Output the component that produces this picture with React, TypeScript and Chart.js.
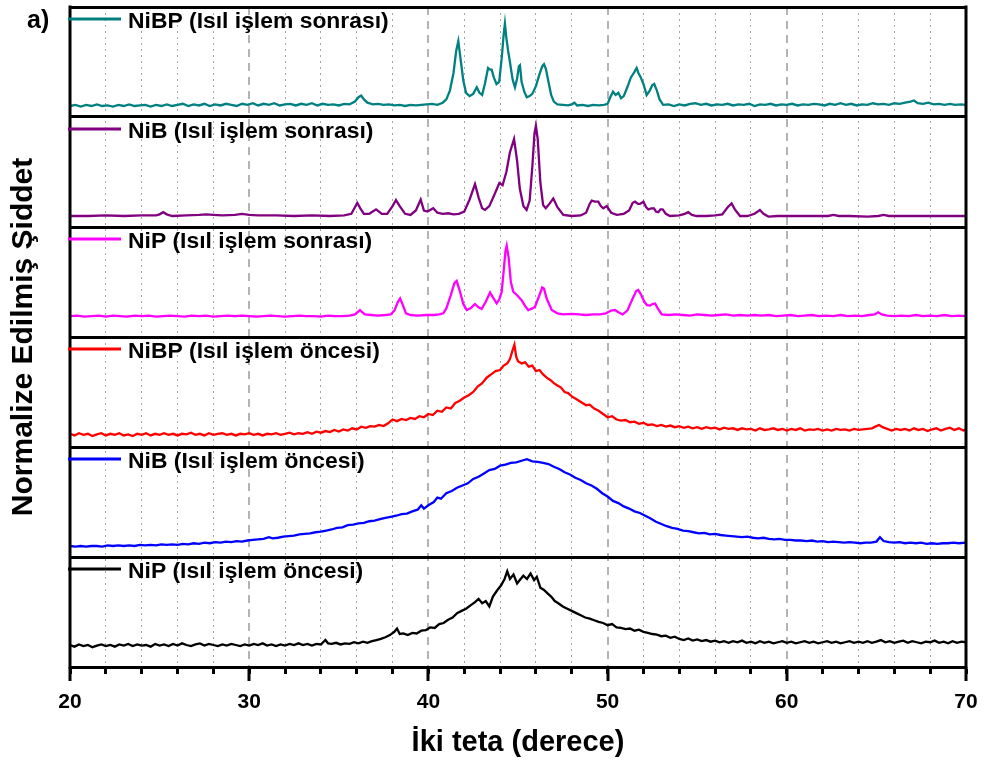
import React, { useEffect, useRef } from "react";
import { Chart, registerables } from "chart.js";

Chart.register(...registerables);

const FONT = '"Liberation Sans", Arial, Helvetica, sans-serif';

// ---- data: [2θ (degree), normalized intensity within its panel] ----
const NIBP_SONRA: [number, number][] = [
  [20.0,.10],[20.3,.11],[20.6,.095],[20.9,.11],[21.2,.10],[21.5,.115],[21.8,.10],[22.1,.105],[22.4,.095],[22.7,.11],
  [23.0,.10],[23.3,.115],[23.6,.10],[23.9,.105],[24.2,.11],[24.5,.095],[24.8,.11],[25.1,.10],[25.4,.115],[25.7,.10],
  [26.0,.11],[26.3,.12],[26.6,.10],[26.9,.115],[27.2,.105],[27.5,.12],[27.8,.10],[28.1,.115],[28.4,.105],[28.7,.12],
  [29.0,.11],[29.3,.10],[29.6,.12],[29.9,.11],[30.2,.125],[30.5,.105],[30.8,.12],[31.1,.11],[31.4,.125],[31.7,.105],
  [32.0,.115],[32.3,.12],[32.6,.105],[32.9,.12],[33.2,.11],[33.5,.125],[33.8,.105],[34.1,.12],[34.4,.11],[34.7,.115],
  [35.0,.105],[35.3,.12],[35.6,.115],[35.9,.14],[36.1,.18],[36.25,.195],[36.4,.16],[36.6,.13],[36.9,.115],[37.2,.12],
  [37.5,.11],[37.8,.115],[38.1,.105],[38.4,.11],[38.7,.10],[39.0,.11],[39.3,.105],[39.6,.11],[39.9,.115],[40.2,.12],
  [40.5,.11],[40.8,.13],[41.0,.16],[41.2,.24],[41.4,.40],[41.55,.60],[41.67,.69],[41.8,.52],[41.95,.33],[42.1,.22],
  [42.3,.19],[42.5,.21],[42.7,.27],[42.85,.22],[43.0,.20],[43.15,.30],[43.33,.445],[43.45,.43],[43.53,.43],[43.65,.36],
  [43.8,.30],[43.95,.32],[44.1,.55],[44.2,.75],[44.27,.85],[44.35,.72],[44.45,.60],[44.55,.50],[44.7,.34],[44.83,.27],
  [44.95,.35],[45.05,.46],[45.11,.47],[45.2,.32],[45.35,.23],[45.49,.18],[45.65,.19],[45.8,.21],[46.0,.28],[46.2,.39],
  [46.35,.46],[46.45,.48],[46.55,.44],[46.7,.32],[46.85,.20],[47.0,.14],[47.2,.115],[47.5,.11],[47.8,.105],[48.0,.115],
  [48.15,.13],[48.3,.105],[48.6,.11],[48.9,.10],[49.2,.11],[49.5,.105],[49.8,.11],[50.0,.12],[50.15,.18],[50.3,.23],
  [50.45,.20],[50.6,.22],[50.75,.17],[50.9,.19],[51.1,.27],[51.3,.36],[51.5,.41],[51.62,.445],[51.72,.40],[51.85,.36],
  [52.0,.30],[52.18,.20],[52.35,.24],[52.5,.29],[52.6,.30],[52.75,.24],[52.9,.16],[53.1,.11],[53.4,.115],[53.7,.10],
  [54.0,.115],[54.3,.105],[54.6,.12],[54.9,.125],[55.2,.11],[55.5,.12],[55.8,.105],[56.1,.115],[56.4,.11],[56.7,.12],
  [57.0,.105],[57.3,.115],[57.6,.11],[57.9,.12],[58.2,.10],[58.5,.115],[58.8,.11],[59.1,.12],[59.4,.105],[59.7,.115],
  [60.0,.11],[60.3,.12],[60.6,.105],[60.9,.115],[61.2,.11],[61.5,.12],[61.8,.115],[62.1,.105],[62.4,.12],[62.7,.11],
  [63.0,.125],[63.3,.11],[63.6,.12],[63.9,.105],[64.2,.115],[64.5,.11],[64.8,.125],[65.1,.115],[65.4,.12],[65.7,.11],
  [66.0,.125],[66.3,.12],[66.6,.13],[66.9,.14],[67.1,.15],[67.3,.125],[67.6,.12],[67.9,.13],[68.2,.115],[68.5,.12],
  [68.8,.11],[69.1,.12],[69.4,.11],[69.7,.115],[70.0,.11],
];

const NIB_SONRA: [number, number][] = [
  [20.0,.10],[21.0,.10],[22.0,.105],[23.0,.10],[24.0,.105],[24.8,.105],[25.0,.115],[25.2,.135],[25.4,.115],[25.7,.10],
  [26.5,.105],[27.2,.11],[27.6,.115],[28.0,.11],[28.5,.105],[29.2,.11],[29.6,.12],[30.0,.11],[30.5,.105],[31.5,.105],
  [32.5,.10],[33.5,.105],[34.5,.10],[35.3,.105],[35.7,.12],[35.9,.18],[36.03,.22],[36.2,.17],[36.4,.12],[36.7,.12],
  [37.08,.16],[37.4,.12],[37.7,.12],[38.0,.19],[38.19,.245],[38.4,.19],[38.7,.12],[39.0,.11],[39.3,.15],[39.57,.25],
  [39.75,.15],[39.95,.14],[40.27,.17],[40.5,.13],[40.8,.12],[41.11,.125],[41.4,.115],[41.7,.12],[42.0,.14],[42.3,.25],
  [42.6,.39],[42.8,.27],[43.0,.17],[43.16,.155],[43.4,.19],[43.7,.30],[43.96,.40],[44.14,.38],[44.35,.50],[44.55,.68],
  [44.78,.80],[44.95,.60],[45.1,.35],[45.3,.19],[45.48,.155],[45.65,.24],[45.8,.55],[45.92,.85],[46.0,.92],[46.1,.80],
  [46.25,.40],[46.4,.20],[46.55,.17],[46.75,.21],[46.97,.26],[47.2,.18],[47.53,.11],[48.0,.10],[48.5,.105],[48.8,.13],
  [49.0,.21],[49.11,.24],[49.3,.23],[49.48,.23],[49.62,.19],[49.76,.17],[49.95,.19],[50.2,.13],[50.51,.11],[50.9,.12],
  [51.2,.15],[51.4,.22],[51.53,.23],[51.7,.21],[51.81,.21],[52.0,.23],[52.15,.18],[52.27,.16],[52.45,.17],[52.59,.17],
  [52.7,.14],[52.83,.135],[52.95,.16],[53.07,.16],[53.25,.12],[53.48,.10],[54.0,.105],[54.3,.12],[54.5,.135],[54.7,.11],
  [54.97,.10],[55.5,.10],[56.0,.105],[56.4,.115],[56.7,.18],[56.92,.215],[57.1,.16],[57.39,.10],[57.8,.10],[58.2,.12],
  [58.5,.155],[58.7,.12],[58.97,.095],[59.5,.10],[60.5,.10],[61.5,.10],[62.3,.10],[62.6,.11],[62.9,.10],[63.5,.10],
  [64.5,.095],[65.1,.10],[65.4,.11],[65.7,.10],[66.5,.10],[67.5,.10],[68.5,.10],[69.3,.10],[70.0,.10],
];

const NIP_SONRA: [number, number][] = [
  [20.0,.19],[20.4,.195],[20.8,.185],[21.2,.19],[21.6,.195],[22.0,.185],[22.4,.195],[22.8,.19],[23.2,.185],[23.6,.195],
  [24.0,.19],[24.4,.195],[24.8,.185],[25.2,.19],[25.6,.195],[26.0,.19],[26.4,.185],[26.8,.195],[27.2,.19],[27.6,.195],
  [28.0,.185],[28.4,.19],[28.8,.195],[29.2,.19],[29.6,.195],[30.0,.19],[30.4,.185],[30.8,.19],[31.2,.195],[31.6,.19],
  [32.0,.185],[32.4,.19],[32.8,.195],[33.2,.19],[33.6,.19],[34.0,.185],[34.4,.195],[34.8,.19],[35.2,.19],[35.6,.195],
  [35.9,.205],[36.18,.245],[36.3,.225],[36.46,.205],[36.8,.20],[37.2,.195],[37.6,.20],[37.9,.205],[38.1,.24],[38.3,.32],
  [38.42,.35],[38.55,.30],[38.75,.215],[39.0,.20],[39.4,.195],[39.9,.20],[40.3,.20],[40.6,.205],[40.83,.215],[41.0,.26],
  [41.25,.38],[41.45,.49],[41.58,.51],[41.75,.42],[41.95,.30],[42.14,.245],[42.35,.26],[42.6,.30],[42.8,.27],[42.97,.255],
  [43.2,.32],[43.44,.405],[43.6,.36],[43.81,.305],[43.95,.34],[44.09,.41],[44.2,.60],[44.3,.78],[44.37,.83],[44.48,.72],
  [44.6,.50],[44.74,.41],[44.95,.38],[45.2,.335],[45.4,.28],[45.57,.245],[45.8,.26],[45.95,.275],[46.15,.36],[46.35,.45],
  [46.45,.44],[46.6,.35],[46.88,.245],[47.2,.215],[47.53,.205],[48.0,.21],[48.4,.205],[48.8,.20],[49.2,.205],[49.58,.205],
  [49.9,.215],[50.2,.24],[50.41,.245],[50.6,.225],[50.84,.205],[51.1,.24],[51.4,.35],[51.6,.42],[51.71,.427],[51.85,.39],
  [52.05,.32],[52.2,.29],[52.37,.285],[52.5,.30],[52.65,.305],[52.8,.26],[53.02,.205],[53.4,.20],[53.8,.205],[54.2,.20],
  [54.6,.195],[55.0,.205],[55.4,.20],[55.8,.195],[56.2,.20],[56.6,.205],[57.0,.195],[57.4,.20],[57.8,.195],[58.2,.20],
  [58.6,.195],[59.0,.20],[59.4,.19],[59.8,.195],[60.2,.20],[60.6,.19],[61.0,.195],[61.4,.20],[61.8,.19],[62.2,.195],
  [62.6,.19],[63.0,.20],[63.4,.19],[63.8,.195],[64.2,.19],[64.6,.20],[64.9,.205],[65.1,.225],[65.3,.205],[65.6,.195],
  [66.0,.19],[66.4,.195],[66.8,.19],[67.2,.20],[67.6,.19],[68.0,.195],[68.4,.19],[68.8,.20],[69.2,.19],[69.6,.195],[70.0,.19],
];

const NIBP_ONCE: [number, number][] = [
  [20.0,.12],[20.25,.105],[20.5,.125],[20.75,.11],[21.0,.12],[21.25,.10],[21.5,.115],[21.75,.125],[22.0,.105],[22.25,.12],
  [22.5,.11],[22.75,.125],[23.0,.105],[23.25,.115],[23.5,.10],[23.75,.12],[24.0,.11],[24.25,.125],[24.5,.105],[24.75,.12],
  [25.0,.11],[25.25,.125],[25.5,.11],[25.75,.12],[26.0,.105],[26.25,.12],[26.5,.115],[26.75,.13],[27.0,.11],[27.25,.12],
  [27.5,.105],[27.75,.125],[28.0,.11],[28.25,.12],[28.5,.125],[28.75,.11],[29.0,.12],[29.25,.105],[29.5,.12],[29.75,.115],
  [30.0,.125],[30.25,.11],[30.5,.12],[30.75,.105],[31.0,.12],[31.25,.115],[31.5,.125],[31.75,.11],[32.0,.12],[32.25,.13],
  [32.5,.115],[32.75,.125],[33.0,.12],[33.25,.135],[33.5,.12],[33.75,.14],[34.0,.13],[34.25,.145],[34.5,.135],[34.75,.155],
  [35.0,.14],[35.25,.16],[35.5,.15],[35.75,.17],[36.0,.16],[36.25,.185],[36.5,.175],[36.75,.19],[37.0,.185],[37.25,.20],
  [37.5,.19],[37.75,.215],[38.0,.25],[38.25,.235],[38.5,.255],[38.75,.245],[39.0,.265],[39.25,.255],[39.5,.28],[39.75,.27],
  [40.0,.30],[40.25,.29],[40.5,.33],[40.75,.32],[41.0,.36],[41.25,.35],[41.5,.40],[41.75,.42],[42.0,.45],[42.25,.47],
  [42.5,.50],[42.75,.55],[43.0,.58],[43.25,.63],[43.5,.66],[43.75,.69],[44.0,.70],[44.2,.74],[44.4,.76],[44.55,.80],
  [44.7,.88],[44.8,.93],[44.9,.82],[45.0,.78],[45.2,.76],[45.4,.77],[45.6,.73],[45.8,.74],[46.0,.69],[46.2,.70],
  [46.4,.66],[46.6,.63],[46.8,.61],[47.0,.58],[47.2,.56],[47.4,.54],[47.6,.50],[47.8,.49],[48.0,.46],[48.2,.44],
  [48.4,.42],[48.6,.40],[48.8,.38],[49.0,.385],[49.25,.35],[49.5,.33],[49.75,.30],[50.0,.27],[50.25,.28],[50.5,.25],
  [50.75,.24],[51.0,.245],[51.25,.225],[51.5,.23],[51.75,.21],[52.0,.22],[52.25,.20],[52.5,.205],[52.75,.19],[53.0,.20],
  [53.25,.185],[53.5,.195],[53.75,.18],[54.0,.19],[54.25,.175],[54.5,.185],[54.75,.17],[55.0,.18],[55.25,.165],[55.5,.18],
  [55.75,.17],[56.0,.175],[56.25,.16],[56.5,.175],[56.75,.165],[57.0,.17],[57.25,.155],[57.5,.17],[57.75,.16],[58.0,.165],
  [58.25,.15],[58.5,.17],[58.75,.155],[59.0,.16],[59.25,.17],[59.5,.155],[59.75,.165],[60.0,.15],[60.25,.165],[60.5,.155],
  [60.75,.17],[61.0,.15],[61.25,.16],[61.5,.155],[61.75,.165],[62.0,.15],[62.25,.16],[62.5,.15],[62.75,.165],[63.0,.155],
  [63.25,.16],[63.5,.15],[63.75,.165],[64.0,.155],[64.25,.16],[64.5,.165],[64.75,.17],[65.0,.19],[65.15,.20],[65.35,.18],
  [65.6,.165],[65.85,.15],[66.1,.165],[66.35,.155],[66.6,.165],[66.85,.15],[67.1,.17],[67.35,.155],[67.6,.165],[67.85,.145],
  [68.1,.16],[68.35,.17],[68.6,.15],[68.85,.165],[69.1,.175],[69.35,.155],[69.6,.17],[69.85,.15],[70.0,.16],
];

const NIB_ONCE: [number, number][] = [
  [20.0,.10],[20.3,.095],[20.6,.10],[20.9,.095],[21.2,.10],[21.5,.10],[21.8,.095],[22.1,.105],[22.4,.10],[22.7,.105],
  [23.0,.10],[23.3,.105],[23.6,.10],[23.9,.11],[24.2,.105],[24.5,.11],[24.8,.105],[25.1,.115],[25.4,.11],[25.7,.115],
  [26.0,.11],[26.3,.12],[26.6,.115],[26.9,.125],[27.2,.12],[27.5,.13],[27.8,.125],[28.1,.135],[28.4,.13],[28.7,.14],
  [29.0,.135],[29.3,.145],[29.6,.14],[29.9,.15],[30.2,.155],[30.5,.16],[30.8,.165],[31.1,.18],[31.3,.17],[31.6,.175],
  [31.9,.185],[32.2,.19],[32.5,.195],[32.8,.205],[33.1,.21],[33.4,.215],[33.7,.225],[34.0,.23],[34.3,.24],[34.6,.25],
  [34.9,.265],[35.2,.27],[35.5,.29],[35.8,.295],[36.1,.305],[36.4,.31],[36.7,.325],[37.0,.33],[37.3,.345],[37.6,.355],
  [37.9,.365],[38.2,.375],[38.5,.39],[38.8,.395],[39.1,.415],[39.4,.43],[39.6,.47],[39.75,.44],[40.0,.47],[40.3,.50],
  [40.5,.54],[40.7,.53],[41.0,.58],[41.3,.60],[41.6,.63],[41.9,.65],[42.2,.67],[42.5,.71],[42.8,.73],[43.1,.76],
  [43.4,.79],[43.7,.80],[44.0,.83],[44.3,.84],[44.6,.855],[44.9,.86],[45.2,.875],[45.5,.89],[45.8,.87],[46.1,.865],
  [46.4,.855],[46.7,.845],[47.0,.82],[47.3,.80],[47.6,.77],[47.9,.75],[48.2,.72],[48.5,.70],[48.8,.67],[49.1,.65],
  [49.4,.62],[49.7,.58],[50.0,.55],[50.3,.51],[50.6,.49],[50.9,.46],[51.2,.44],[51.5,.415],[51.8,.40],[52.1,.375],
  [52.4,.35],[52.7,.32],[53.0,.30],[53.3,.28],[53.6,.265],[53.9,.255],[54.2,.24],[54.5,.235],[54.8,.225],[55.1,.215],
  [55.4,.22],[55.7,.205],[56.0,.21],[56.3,.20],[56.6,.195],[56.9,.19],[57.2,.185],[57.5,.18],[57.8,.185],[58.1,.175],
  [58.4,.17],[58.7,.175],[59.0,.165],[59.3,.16],[59.6,.165],[59.9,.155],[60.2,.155],[60.5,.15],[60.8,.15],[61.1,.145],
  [61.4,.15],[61.7,.14],[62.0,.145],[62.3,.135],[62.6,.14],[62.9,.135],[63.2,.13],[63.5,.135],[63.8,.13],[64.1,.125],
  [64.4,.13],[64.7,.13],[65.0,.14],[65.2,.18],[65.4,.145],[65.7,.135],[66.0,.13],[66.3,.135],[66.6,.125],[66.9,.13],
  [67.2,.125],[67.5,.13],[67.8,.12],[68.1,.125],[68.4,.12],[68.7,.125],[69.0,.125],[69.3,.13],[69.6,.125],[70.0,.13],
];

const NIP_ONCE: [number, number][] = [
  [20.0,.20],[20.25,.185],[20.5,.205],[20.75,.19],[21.0,.20],[21.25,.18],[21.5,.195],[21.75,.205],[22.0,.19],[22.25,.20],
  [22.5,.185],[22.75,.205],[23.0,.195],[23.25,.21],[23.5,.19],[23.75,.205],[24.0,.195],[24.25,.20],[24.5,.185],[24.75,.21],
  [25.0,.195],[25.25,.205],[25.5,.19],[25.75,.21],[26.0,.195],[26.25,.215],[26.5,.20],[26.75,.19],[27.0,.205],[27.25,.215],
  [27.5,.195],[27.75,.21],[28.0,.20],[28.25,.19],[28.5,.205],[28.75,.195],[29.0,.21],[29.25,.20],[29.5,.19],[29.75,.205],
  [30.0,.195],[30.25,.21],[30.5,.20],[30.75,.215],[31.0,.195],[31.25,.205],[31.5,.19],[31.75,.205],[32.0,.195],[32.25,.21],
  [32.5,.20],[32.75,.215],[33.0,.20],[33.25,.21],[33.5,.195],[33.75,.21],[34.0,.205],[34.25,.245],[34.4,.215],[34.6,.21],
  [34.85,.22],[35.1,.205],[35.35,.215],[35.6,.21],[35.85,.225],[36.1,.215],[36.35,.23],[36.6,.22],[36.85,.235],[37.1,.245],
  [37.35,.255],[37.6,.27],[37.85,.29],[38.1,.32],[38.25,.35],[38.4,.30],[38.6,.305],[38.85,.29],[39.1,.31],[39.35,.305],
  [39.6,.33],[39.85,.335],[40.1,.36],[40.35,.355],[40.6,.39],[40.85,.40],[41.1,.43],[41.35,.45],[41.6,.49],[41.85,.51],
  [42.1,.53],[42.35,.56],[42.6,.59],[42.8,.62],[43.0,.58],[43.2,.60],[43.4,.55],[43.6,.64],[43.85,.70],[44.05,.74],
  [44.25,.80],[44.4,.87],[44.55,.80],[44.75,.84],[44.95,.76],[45.1,.79],[45.3,.83],[45.5,.80],[45.7,.85],[45.9,.79],
  [46.05,.82],[46.25,.72],[46.45,.70],[46.65,.67],[46.85,.64],[47.05,.60],[47.25,.58],[47.5,.55],[47.75,.53],[48.0,.51],
  [48.25,.49],[48.5,.47],[48.75,.45],[49.0,.44],[49.25,.425],[49.5,.41],[49.75,.40],[50.0,.38],[50.25,.39],[50.5,.36],
  [50.75,.355],[51.0,.345],[51.25,.35],[51.5,.33],[51.75,.34],[52.0,.32],[52.25,.31],[52.5,.30],[52.75,.295],[53.0,.28],
  [53.25,.285],[53.5,.265],[53.75,.275],[54.0,.255],[54.25,.245],[54.5,.26],[54.75,.24],[55.0,.25],[55.25,.235],[55.5,.245],
  [55.75,.23],[56.0,.24],[56.25,.225],[56.5,.235],[56.75,.22],[57.0,.235],[57.25,.225],[57.5,.24],[57.75,.22],[58.0,.23],
  [58.25,.215],[58.5,.235],[58.75,.22],[59.0,.23],[59.25,.215],[59.5,.225],[59.75,.235],[60.0,.22],[60.25,.23],[60.5,.215],
  [60.75,.225],[61.0,.235],[61.25,.22],[61.5,.23],[61.75,.215],[62.0,.225],[62.25,.235],[62.5,.22],[62.75,.23],[63.0,.215],
  [63.25,.225],[63.5,.235],[63.75,.22],[64.0,.23],[64.25,.22],[64.5,.235],[64.75,.22],[65.0,.23],[65.25,.245],[65.5,.225],
  [65.75,.235],[66.0,.22],[66.25,.23],[66.5,.24],[66.75,.22],[67.0,.235],[67.25,.225],[67.5,.215],[67.75,.23],[68.0,.225],
  [68.25,.24],[68.5,.22],[68.75,.23],[69.0,.215],[69.25,.235],[69.5,.22],[69.75,.23],[70.0,.225],
];

const SERIES_LABELS = [
  "NiBP (Isıl işlem sonrası)",
  "NiB (Isıl işlem sonrası)",
  "NiP (Isıl işlem sonrası)",
  "NiBP (Isıl işlem öncesi)",
  "NiB (Isıl işlem öncesi)",
  "NiP (Isıl işlem öncesi)",
];
const SERIES_DATA = [NIBP_SONRA, NIB_SONRA, NIP_SONRA, NIBP_ONCE, NIB_ONCE, NIP_ONCE];
const SERIES_COLORS = ["#008080", "#800080", "#FF00FF", "#FF0000", "#0000FF", "#000000"];
const PANEL_OFFSETS = [5, 4, 3, 2, 1, 0];
const X_MIN = 20;
const X_MAX = 70;

const panelLabels = {
  id: "panelLabels",
  afterDatasetsDraw(chart: any) {
    const { ctx, chartArea } = chart;
    ctx.save();
    ctx.strokeStyle = "#000";
    ctx.lineWidth = 3;
    ctx.beginPath();
    ctx.moveTo(chartArea.left, chartArea.top - 1.5);
    ctx.lineTo(chartArea.left, chartArea.bottom + 1.5);
    ctx.moveTo(chartArea.right, chartArea.top - 1.5);
    ctx.lineTo(chartArea.right, chartArea.bottom + 1.5);
    ctx.stroke();
    ctx.restore();
  },
  afterDraw(chart: any) {
    const { ctx, chartArea, scales } = chart;
    const y = scales.y;
    chart.data.datasets.forEach((ds: any, i: number) => {
      const top = y.getPixelForValue(PANEL_OFFSETS[i] + 1);
      ctx.save();
      ctx.strokeStyle = ds.borderColor;
      ctx.lineWidth = 3;
      ctx.beginPath();
      ctx.moveTo(chartArea.left - 2, top + 12);
      ctx.lineTo(chartArea.left + 51, top + 12);
      ctx.stroke();
      ctx.font = `bold 22px ${FONT}`;
      ctx.fillStyle = "#000";
      ctx.textBaseline = "alphabetic";
      ctx.textAlign = "left";
      ctx.translate(chartArea.left + 58, top + 21);
      ctx.scale(1.04, 1);
      ctx.fillText(ds.label, 0, 0);
      ctx.restore();
    });
    ctx.save();
    ctx.font = `bold 25px ${FONT}`;
    ctx.fillStyle = "#000";
    ctx.textBaseline = "alphabetic";
    ctx.fillText("a)", 27, 28);
    ctx.restore();
  },
};

export default function App() {
  const ref = useRef<HTMLCanvasElement | null>(null);
  useEffect(() => {
    if (!ref.current) return;
    Chart.defaults.font.family = FONT;
    const isMajor = (v: number) => Math.abs(v % 10) < 1e-6 || Math.abs((v % 10) - 10) < 1e-6;
    const chart = new Chart(ref.current, {
      type: "line",
      data: {
        datasets: SERIES_DATA.map((d, i) => ({
          label: SERIES_LABELS[i],
          data: d.map(([x, v]) => ({ x, y: v + PANEL_OFFSETS[i] })),
          borderColor: SERIES_COLORS[i],
          backgroundColor: SERIES_COLORS[i],
          borderWidth: 2.3,
          pointRadius: 0,
          tension: 0,
          fill: false,
        })),
      },
      options: {
        responsive: false,
        animation: false,
        devicePixelRatio: 1,
        layout: { padding: { top: 7, right: 18, left: 0, bottom: 0 } },
        plugins: { legend: { display: false }, tooltip: { enabled: false } },
        scales: {
          x: {
            type: "linear",
            position: "bottom",
            weight: 1,
            min: X_MIN,
            max: X_MAX,
            ticks: {
              stepSize: 2,
              autoSkip: false,
              maxRotation: 0,
              padding: 16,
              color: "#000",
              font: { size: 21, weight: "bold" },
              callback: (v: any) => (isMajor(Number(v)) ? String(v) : ""),
            },
            grid: {
              color: (c: any) => {
                const v = c.tick ? c.tick.value : NaN;
                if (isNaN(v) || isMajor(v)) return "rgba(0,0,0,0)";
                return "#a6a6a6";
              },
              lineWidth: 1,
              tickLength: 7,
              tickWidth: 3,
              tickColor: "#000",
              drawTicks: true,
            },
            border: { display: true, color: "#000", width: 3, dash: [2, 4] },
            title: {
              display: true,
              text: "İki teta (derece)",
              color: "#000",
              font: { size: 29, weight: "bold" },
              padding: { top: 0, bottom: 0 },
            },
            afterFit: (s: any) => {
              s.height = 93;
              s.paddingLeft = 0;
              s.paddingRight = 0;
            },
          },
          x2: {
            type: "linear",
            position: "bottom",
            weight: 0,
            min: X_MIN,
            max: X_MAX,
            ticks: { stepSize: 10, display: false },
            grid: {
              color: (c: any) => {
                const v = c.tick ? c.tick.value : NaN;
                if (isNaN(v) || v <= X_MIN || v >= X_MAX) return "rgba(0,0,0,0)";
                return "#b4b4b4";
              },
              lineWidth: 2,
              tickLength: 14,
              tickWidth: 3,
              tickColor: "#000",
              drawTicks: true,
            },
            border: { display: false, dash: [8, 6] },
            afterFit: (s: any) => {
              s.height = 0;
              s.paddingLeft = 0;
              s.paddingRight = 0;
            },
          },
          y: {
            type: "linear",
            position: "left",
            min: 0,
            max: 6,
            ticks: { stepSize: 1, display: false },
            grid: { color: "#000", lineWidth: 3, drawTicks: false, z: 1 },
            border: { display: false },
            title: {
              display: true,
              text: "Normalize Edilmiş Şiddet",
              color: "#000",
              font: { size: 30, weight: "bold" },
              padding: { top: 6, bottom: 0 },
            },
            afterFit: (s: any) => {
              s.width = 70;
            },
          },
        },
      } as any,
      plugins: [panelLabels],
    });
    return () => chart.destroy();
  }, []);
  return (
    <div style={{ position: "absolute", left: 0, top: 0, width: 984, height: 760, background: "#fff" }}>
      <canvas ref={ref} width={984} height={760} style={{ display: "block" }} />
    </div>
  );
}
